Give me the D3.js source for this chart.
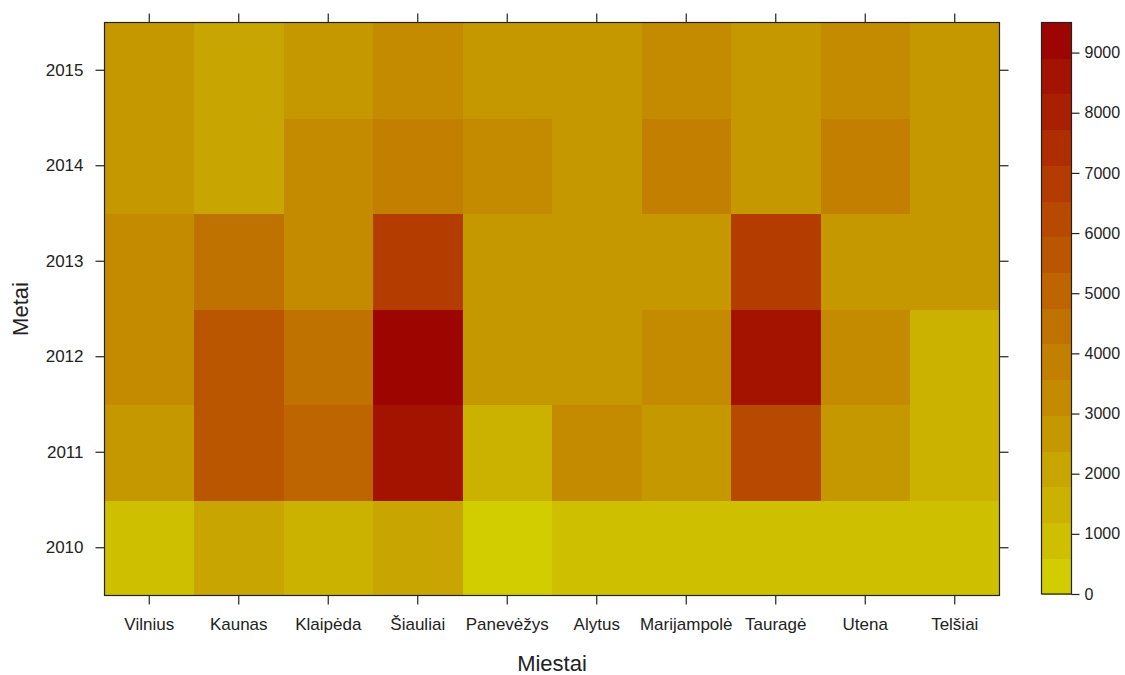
<!DOCTYPE html>
<html>
<head>
<meta charset="utf-8">
<script src="https://cdn.jsdelivr.net/npm/d3@7/dist/d3.min.js"></script>
<style>
  html, body { margin: 0; padding: 0; background: #ffffff; }
  svg { display: block; }
  text { font-family: "Liberation Sans", Arial, sans-serif; fill: #222; }
</style>
</head>
<body>
<svg id="chart" width="1125" height="675"></svg>
<script>
// Cities (x axis) and years (y axis)
const cities = ["Vilnius", "Kaunas", "Klaipėda", "Šiauliai", "Panevėžys",
                "Alytus", "Marijampolė", "Tauragė", "Utena", "Telšiai"];
const years = [2010, 2011, 2012, 2013, 2014, 2015];

// Values per year, in city order
const v2010 = [650, 2150, 1430, 2240, 50, 720, 720, 720, 720, 720];
const v2011 = [2870, 5910, 5020, 8420, 1610, 3410, 2780, 6270, 2600, 1250];
const v2012 = [3230, 5380, 4660, 9500, 2510, 2510, 3050, 8780, 3230, 1650];
const v2013 = [3230, 4300, 3050, 6990, 2420, 2420, 2870, 6900, 2870, 2690];
const v2014 = [2600, 1790, 3140, 3760, 3230, 2450, 3670, 2960, 3850, 2600];
const v2015 = [2780, 1790, 2600, 3230, 2420, 2420, 3050, 2420, 3140, 2600];
const valuesByYear = [v2010, v2011, v2012, v2013, v2014, v2015];

// Colour key tick labels
const keyTicks = [0, 1000, 2000, 3000, 4000, 5000, 6000, 7000, 8000, 9000];

const cells = [];
years.forEach((yr, i) => {
  cities.forEach((c, j) => cells.push({ city: c, year: yr, value: valuesByYear[i][j] }));
});

const svg = d3.select("#chart");

// Panel geometry
const panel = { left: 104.5, right: 999.5, top: 22.5, bottom: 595.5 };
const key = { left: 1041.5, right: 1071.5, top: 22.5, bottom: 594 };

const x = d3.scaleBand().domain(cities).range([panel.left, panel.right]).padding(0);
const y = d3.scaleBand().domain(years.slice().reverse()).range([panel.top, panel.bottom]).padding(0);

// Value range split into 16 equal intervals
const vmin = 0;
const vmax = d3.max(cells, d => d.value);
const nBands = 16;
const breaks = d3.range(nBands + 1).map(i => vmin + i * (vmax - vmin) / nBands);

// Yellow-to-dark-red ramp
const ramp = d3.scaleLinear()
  .domain([0, 0.1, 0.2, 0.3, 0.4, 0.5, 0.6, 0.7, 0.8, 0.9, 1])
  .range(["#d4d400", "#cebe00", "#c9a900", "#c59400", "#c28000", "#bf6b00",
          "#bb5500", "#b54000", "#ad2a00", "#a41400", "#9a0000"])
  .interpolate(d3.interpolateRgb);
const bandColors = d3.range(nBands).map(i => ramp((i + 0.5) / nBands));
const color = d3.scaleThreshold().domain(breaks.slice(1, -1)).range(bandColors);

// Heatmap cells
svg.append("g")
  .selectAll("rect")
  .data(cells)
  .join("rect")
  .attr("x", d => x(d.city))
  .attr("y", d => y(d.year))
  .attr("width", x.bandwidth() + 0.5)
  .attr("height", y.bandwidth() + 0.5)
  .attr("fill", d => color(d.value))
  .attr("shape-rendering", "crispEdges");

// Panel border
svg.append("rect")
  .attr("x", panel.left).attr("y", panel.top)
  .attr("width", panel.right - panel.left).attr("height", panel.bottom - panel.top)
  .attr("fill", "none").attr("stroke", "#222").attr("stroke-width", 1.2);

const tickLen = 9;
const tickStyle = g => g.select(".domain").remove();

// Bottom axis with labels, top axis ticks only
const xBottom = svg.append("g")
  .attr("transform", `translate(0,${panel.bottom})`)
  .call(d3.axisBottom(x).tickSize(tickLen).tickPadding(10));
xBottom.call(tickStyle);
xBottom.selectAll("text").attr("font-size", 17).attr("dy", "0.9em");

const xTop = svg.append("g")
  .attr("transform", `translate(0,${panel.top})`)
  .call(d3.axisTop(x).tickSize(tickLen).tickFormat(""));
xTop.call(tickStyle);

// Left axis with labels, right axis ticks only
const yLeft = svg.append("g")
  .attr("transform", `translate(${panel.left},0)`)
  .call(d3.axisLeft(y).tickSize(tickLen).tickPadding(12));
yLeft.call(tickStyle);
yLeft.selectAll("text").attr("font-size", 17);

const yRight = svg.append("g")
  .attr("transform", `translate(${panel.right},0)`)
  .call(d3.axisRight(y).tickSize(tickLen).tickFormat(""));
yRight.call(tickStyle);

svg.selectAll(".tick line").attr("stroke", "#222").attr("stroke-width", 1.2);

// Axis titles
svg.append("text")
  .attr("x", (panel.left + panel.right) / 2)
  .attr("y", 671)
  .attr("text-anchor", "middle")
  .attr("font-size", 22)
  .text("Miestai");

svg.append("text")
  .attr("transform", `translate(28,${(panel.top + panel.bottom) / 2}) rotate(-90)`)
  .attr("text-anchor", "middle")
  .attr("font-size", 22)
  .text("Metai");

// Colour key
const ky = d3.scaleLinear().domain([vmin, vmax]).range([key.bottom, key.top]);
const keyG = svg.append("g");
keyG.selectAll("rect")
  .data(d3.range(nBands))
  .join("rect")
  .attr("x", key.left)
  .attr("y", i => ky(breaks[i + 1]))
  .attr("width", key.right - key.left)
  .attr("height", i => ky(breaks[i]) - ky(breaks[i + 1]) + 0.5)
  .attr("fill", i => bandColors[i])
  .attr("shape-rendering", "crispEdges");
keyG.append("rect")
  .attr("x", key.left).attr("y", key.top)
  .attr("width", key.right - key.left).attr("height", key.bottom - key.top)
  .attr("fill", "none").attr("stroke", "#222").attr("stroke-width", 1.2);

const keyAxis = svg.append("g")
  .attr("transform", `translate(${key.right},0)`)
  .call(d3.axisRight(ky).tickValues(keyTicks).tickSize(8).tickPadding(5).tickFormat(d3.format("d")));
keyAxis.call(tickStyle);
keyAxis.selectAll("text").attr("font-size", 16);
keyAxis.selectAll(".tick line").attr("stroke", "#222").attr("stroke-width", 1.2);
</script>
</body>
</html>
